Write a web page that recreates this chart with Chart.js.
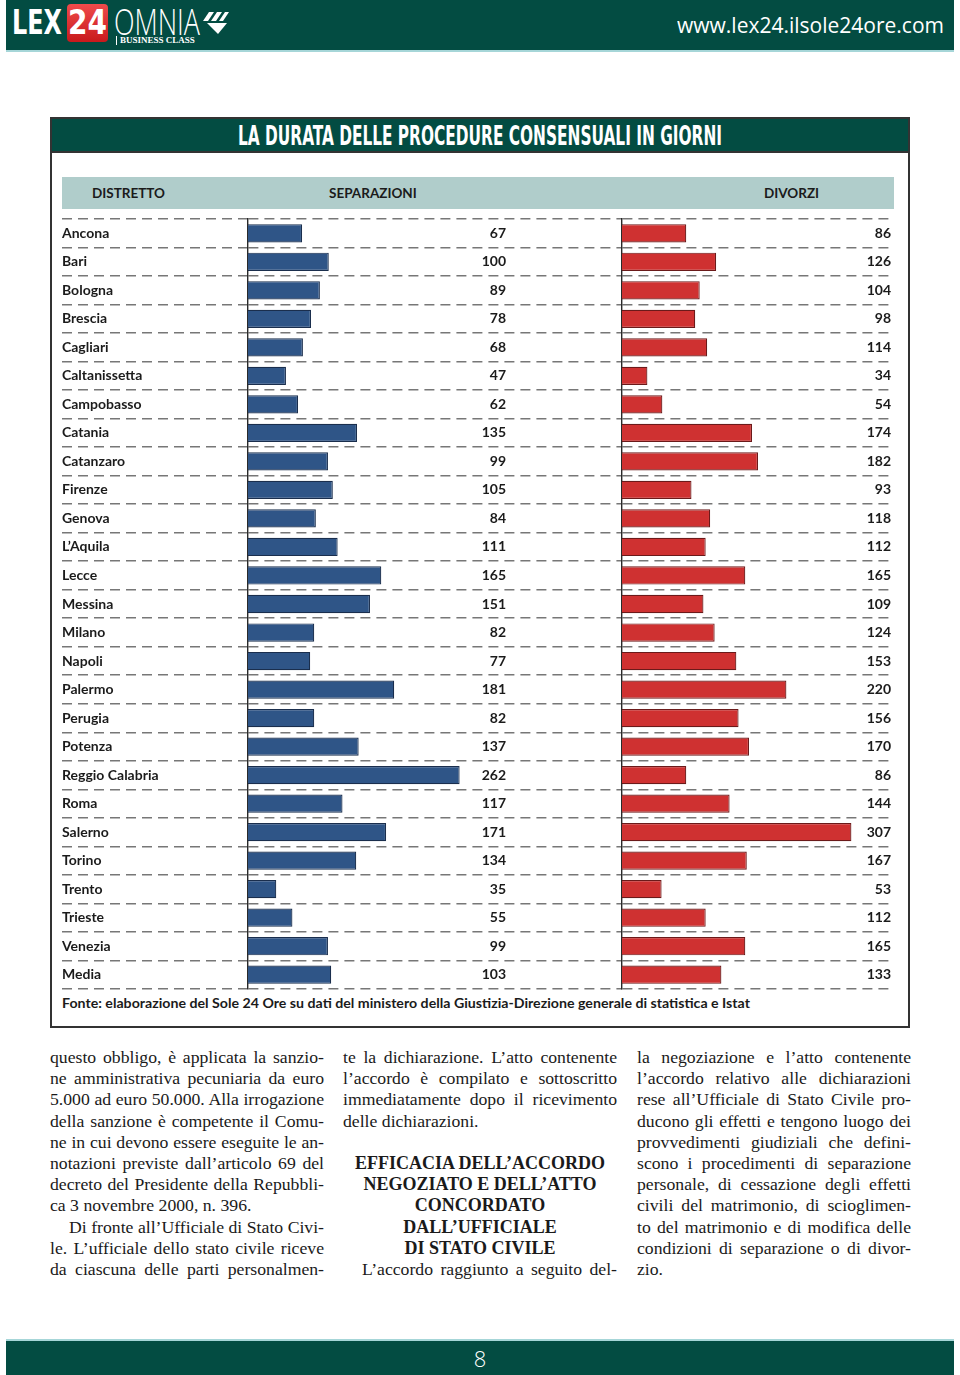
<!DOCTYPE html>
<html lang="it">
<head>
<meta charset="utf-8">
<title>La durata delle procedure consensuali in giorni</title>
<script src="https://cdn.jsdelivr.net/npm/chart.js@4.4.1/dist/chart.umd.min.js"></script>
<style>
html, body { margin: 0; padding: 0; background: #fff; }
body { width: 960px; height: 1375px; position: relative; overflow: hidden; font-family: 'Open Sans', sans-serif; }
.abs { position: absolute; white-space: nowrap; }
#topbar { left: 6px; top: 0; width: 948px; height: 50px; background: #034c42; border-bottom: 2px solid #a6d6d8; }
#lex { left: 12px; top: 3px; color: #fff; font: bold 33px 'Liberation Sans Narrow', 'DejaVu Sans Condensed', sans-serif; transform-origin: left top; }
#box24 { left: 67px; top: 4px; width: 41px; height: 38px; border-radius: 4px; background: linear-gradient(#ef4b4b, #c8191c); }
#n24 { left: 68px; top: 3px; color: #fff; font: bold 33px 'Liberation Sans Narrow', 'DejaVu Sans Condensed', sans-serif; transform-origin: left top; }
#omnia { left: 114px; top: 4px; color: #fff; font: 300 36px 'Open Sans', sans-serif; line-height: 36px; transform-origin: left top; }
#bclass { left: 116px; top: 36px; color: #fff; font: bold 9px 'Liberation Serif', serif; border-left: 1px solid #fff; padding-left: 3px; line-height: 9px; }
#url { left: 677px; top: 11px; color: #fff; font: 21px 'Open Sans', sans-serif; transform-origin: left top; }
#botbar { left: 6px; top: 1339px; width: 948px; height: 36px; background: #034c42; border-top: 2px solid #a6d6d8; }
#page { left: 0; top: 1343px; width: 960px; text-align: center; color: #fff; font: 300 22px 'Open Sans', sans-serif; }

#frame { left: 50px; top: 117px; width: 856px; height: 907px; border: 2px solid #333; }
#titlebar { left: 52px; top: 119px; width: 856px; height: 32px; background: #034c42; border-bottom: 2px solid #333; }
#title { left: 238px; top: 119px; color: #fff; font: bold 27px 'Liberation Sans Narrow', 'DejaVu Sans Condensed', sans-serif; line-height: 34px; transform-origin: left top; }
#headrow { left: 62px; top: 177px; width: 832px; height: 32px; background: #b0cdcb; }
.hd { top: 184px; color: #1b1b1b; font: bold 13.5px Lato, sans-serif; line-height: 18px; }
#fonte { left: 62px; top: 994px; color: #1b1b1b; font: bold 14px Lato, sans-serif; line-height: 18px; transform-origin: left top; }

.col { top: 1047px; width: 274px; font: 17.7px 'Liberation Serif', 'Times New Roman', serif; line-height: 21.2px; color: #1a1a1a; }
.col div { height: 21.2px; white-space: nowrap; }
.j { text-align: justify; text-align-last: justify; word-spacing: -2px; }
.ind { padding-left: 19px; }
.hb { font-weight: bold; text-align: center; font-size: 18px; }
</style>
</head>
<body>
<div class="abs" id="topbar"></div>
<div class="abs" id="lex">LEX</div>
<div class="abs" id="box24"></div>
<div class="abs" id="n24">24</div>
<div class="abs" id="omnia">OMNIA</div>
<div class="abs" id="bclass">BUSINESS CLASS</div>
<svg class="abs" style="left:203px;top:12px" width="26" height="22" viewBox="0 0 26 22">
  <polygon points="6,0 11,0 5,9 0,9" fill="#fff"/>
  <polygon points="14,0 19,0 13,9 8,9" fill="#fff"/>
  <polygon points="22,0 26,0 20,9 16,9" fill="#fff"/>
  <polygon points="4,11 24,11 15,22" fill="#fff"/>
</svg>
<div class="abs" id="url">www.lex24.ilsole24ore.com</div>

<div class="abs" id="frame"></div>
<div class="abs" id="titlebar"></div>
<div class="abs" id="title">LA DURATA DELLE PROCEDURE CONSENSUALI IN GIORNI</div>
<div class="abs" id="headrow"></div>
<div class="abs hd" style="left:92px">DISTRETTO</div>
<div class="abs hd" style="left:329px">SEPARAZIONI</div>
<div class="abs hd" style="left:764px">DIVORZI</div>

<canvas class="abs" id="sepChart" width="560" height="774" style="left:62px;top:217px"></canvas>
<canvas class="abs" id="divChart" width="276" height="774" style="left:620px;top:217px"></canvas>

<div class="abs" id="fonte">Fonte: elaborazione del Sole 24 Ore su dati del ministero della Giustizia-Direzione generale di statistica e Istat</div>

<div class="abs col" style="left:50px">
  <div class="j">questo obbligo, è applicata la sanzio-</div>
  <div class="j">ne amministrativa pecuniaria da euro</div>
  <div class="j">5.000 ad euro 50.000. Alla irrogazione</div>
  <div class="j">della sanzione è competente il Comu-</div>
  <div class="j">ne in cui devono essere eseguite le an-</div>
  <div class="j">notazioni previste dall’articolo 69 del</div>
  <div class="j">decreto del Presidente della Repubbli-</div>
  <div>ca 3 novembre 2000, n. 396.</div>
  <div class="j ind">Di fronte all’Ufficiale di Stato Civi-</div>
  <div class="j">le. L’ufficiale dello stato civile riceve</div>
  <div class="j">da ciascuna delle parti personalmen-</div>
</div>
<div class="abs col" style="left:343px">
  <div class="j">te la dichiarazione. L’atto contenente</div>
  <div class="j">l’accordo è compilato e sottoscritto</div>
  <div class="j">immediatamente dopo il ricevimento</div>
  <div>delle dichiarazioni.</div>
  <div></div>
  <div class="hb">EFFICACIA DELL’ACCORDO</div>
  <div class="hb">NEGOZIATO E DELL’ATTO</div>
  <div class="hb">CONCORDATO</div>
  <div class="hb">DALL’UFFICIALE</div>
  <div class="hb">DI STATO CIVILE</div>
  <div class="j ind">L’accordo raggiunto a seguito del-</div>
</div>
<div class="abs col" style="left:637px">
  <div class="j">la negoziazione e l’atto contenente</div>
  <div class="j">l’accordo relativo alle dichiarazioni</div>
  <div class="j">rese all’Ufficiale di Stato Civile pro-</div>
  <div class="j">ducono gli effetti e tengono luogo dei</div>
  <div class="j">provvedimenti giudiziali che defini-</div>
  <div class="j">scono i procedimenti di separazione</div>
  <div class="j">personale, di cessazione degli effetti</div>
  <div class="j">civili del matrimonio, di scioglimen-</div>
  <div class="j">to del matrimonio e di modifica delle</div>
  <div class="j">condizioni di separazione o di divor-</div>
  <div>zio.</div>
</div>

<div class="abs" id="botbar"></div>
<div class="abs" id="page">8</div>

<script>
const districts = ["Ancona", "Bari", "Bologna", "Brescia", "Cagliari", "Caltanissetta",
                   "Campobasso", "Catania", "Catanzaro", "Firenze", "Genova", "L’Aquila",
                   "Lecce", "Messina", "Milano", "Napoli", "Palermo", "Perugia",
                   "Potenza", "Reggio Calabria", "Roma", "Salerno", "Torino", "Trento",
                   "Trieste", "Venezia", "Media"];

const separazioni = [67, 100, 89, 78, 68, 47, 62, 135, 99, 105, 84, 111, 165, 151,
                     82, 77, 181, 82, 137, 262, 117, 171, 134, 35, 55, 99, 103];

const divorzi = [86, 126, 104, 98, 114, 34, 54, 174, 182, 93, 118, 112, 165, 109,
                 124, 153, 220, 156, 170, 86, 144, 307, 167, 53, 112, 165, 133];

// squeeze a few text blocks to the width they have in the print
function fitWidth(id, w) {
    const el = document.getElementById(id);
    el.style.transform = "scaleX(" + (w / el.getBoundingClientRect().width) + ")";
}
fitWidth("lex", 50);
fitWidth("n24", 39);
fitWidth("omnia", 86);
fitWidth("url", 267);
fitWidth("title", 484);
fitWidth("fonte", 688);

const gridGray = "#777777";
const dash = [10, 6];

// numbers printed in the column next to the bars
const valueLabels = {
    id: "valueLabels",
    afterDatasetsDraw(chart, args, opts) {
        const ctx = chart.ctx;
        const area = chart.chartArea;
        const meta = chart.getDatasetMeta(0);
        const values = chart.data.datasets[0].data;
        const x = opts.fromRight != null ? area.right - opts.fromRight : area.left + opts.fromLeft;
        ctx.save();
        ctx.font = "bold 14px Lato, sans-serif";
        ctx.fillStyle = "#1b1b1b";
        ctx.textAlign = "right";
        ctx.textBaseline = "middle";
        meta.data.forEach((bar, i) => ctx.fillText(values[i], x, bar.y));
        ctx.restore();
    }
};

new Chart(document.getElementById("sepChart"), {
    type: "bar",
    data: {
        labels: districts,
        datasets: [{
            data: separazioni,
            backgroundColor: "#2f5587",
            borderColor: "#1a2e4d",
            borderWidth: 1.2,
            borderSkipped: "left",
            barPercentage: 0.64,
            categoryPercentage: 1
        }]
    },
    options: {
        indexAxis: "y",
        responsive: false,
        animation: false,
        events: [],
        layout: {padding: {top: 2, bottom: 2, left: 0, right: 0}},
        plugins: {
            legend: {display: false},
            tooltip: {enabled: false},
            valueLabels: {fromLeft: 258}
        },
        scales: {
            x: {display: false, min: 0, max: 463},
            y: {
                afterFit(scale) {
                    scale.width = 186;
                    scale.paddingTop = 0;
                    scale.paddingBottom = 0;
                },
                grid: {color: gridGray, lineWidth: 1.6, tickLength: 186, tickColor: gridGray,
                       tickWidth: 1.6, tickBorderDash: dash},
                border: {display: true, color: "#2a2a2a", width: 1.4, dash: dash},
                ticks: {crossAlign: "far", autoSkip: false, padding: 0, color: "#1b1b1b",
                        font: {family: "Lato", size: 14, weight: "bold"}}
            }
        }
    },
    plugins: [valueLabels]
});

new Chart(document.getElementById("divChart"), {
    type: "bar",
    data: {
        labels: districts,
        datasets: [{
            data: divorzi,
            backgroundColor: "#cf3131",
            borderColor: "#6b1a1a",
            borderWidth: 1.2,
            borderSkipped: "left",
            barPercentage: 0.64,
            categoryPercentage: 1
        }]
    },
    options: {
        indexAxis: "y",
        responsive: false,
        animation: false,
        events: [],
        layout: {padding: {top: 2, bottom: 2, left: 2, right: 2}},
        plugins: {
            legend: {display: false},
            tooltip: {enabled: false},
            valueLabels: {fromRight: 3}
        },
        scales: {
            x: {display: false, min: 0, max: 364},
            y: {
                grid: {color: gridGray, lineWidth: 1.6, drawTicks: false},
                border: {display: true, color: "#2a2a2a", width: 1.4, dash: dash},
                ticks: {display: false}
            }
        }
    },
    plugins: [valueLabels]
});
</script>
</body>
</html>
